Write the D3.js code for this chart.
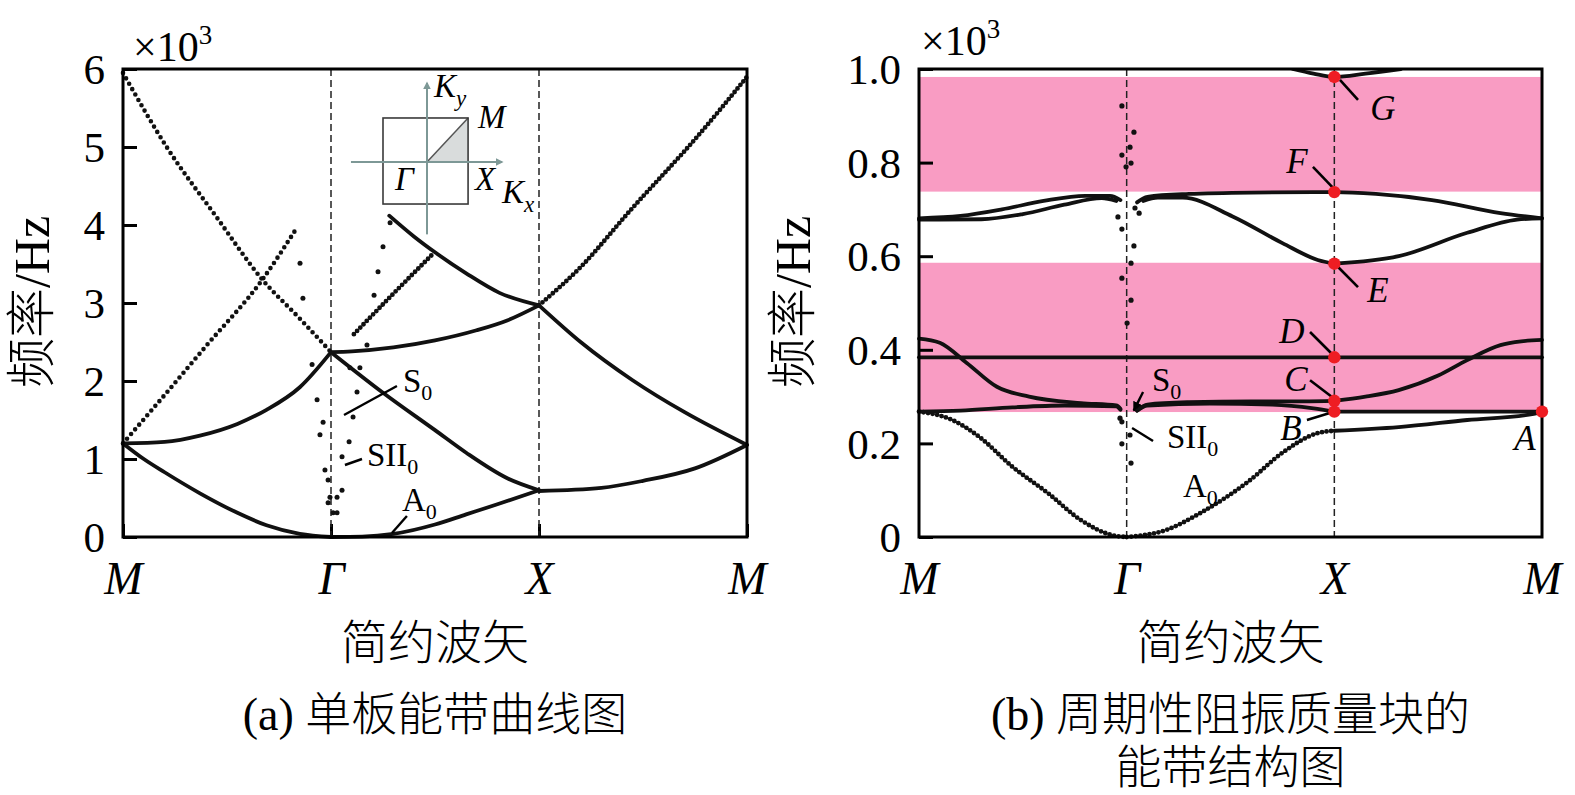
<!DOCTYPE html>
<html><head><meta charset="utf-8">
<script src="https://cdn.jsdelivr.net/npm/d3@7"></script>
<style>
body{margin:0;background:#fff;}
svg text{font-family:"Liberation Serif","Times New Roman","Noto Sans CJK SC",serif;fill:#000;}
</style></head><body>
<svg id="c" width="1575" height="795"></svg>
<script>
// ---------- data ----------
const kTicks = [0, 1, 2, 3];
const kLabels = ["M", "Γ", "X", "M"];
const aYTicks = [0, 1, 2, 3, 4, 5, 6];
const bYTicks = [0, 0.2, 0.4, 0.6, 0.8, 1.0];
const bYTickLabels = ["0", "0.2", "0.4", "0.6", "0.8", "1.0"];
const yTitle = "频率/Hz";
const xTitle = "简约波矢";
const aCaption = ["(a) 单板能带曲线图"];
const bCaption = ["(b) 周期性阻振质量块的", "能带结构图"];

// panel (a) branches  [k, f(x10^3 Hz)]
const aMGup = [[0,1.2],[0.2,1.82],[0.4,2.45],[0.67,3.3],[0.83,3.94]];
const aMGdown = [[0,5.95],[0.21,5.0],[0.45,4.1],[0.67,3.3],[0.85,2.8],[1,2.37]];
const aMGmid = [[0,1.2],[0.2,1.22],[0.37,1.3],[0.55,1.45],[0.69,1.63],[0.85,1.92],[1,2.37]];
const aMGlow = [[0,1.2],[0.1,1.0],[0.2,0.83],[0.37,0.56],[0.55,0.31],[0.69,0.15],[0.85,0.04],[1,0]];
const aGXdown = [[1,2.37],[1.25,1.85],[1.5,1.37],[1.65,1.08],[1.85,0.75],[2,0.6]];
const aGXup = [[1,2.37],[1.1,2.38],[1.3,2.43],[1.5,2.52],[1.7,2.65],[1.85,2.78],[2,2.97]];
const aGXa0 = [[1,0],[1.15,0.005],[1.3,0.04],[1.5,0.16],[1.65,0.29],[1.8,0.42],[2,0.6]];
const aGXtop = [[1.28,4.12],[1.4,3.85],[1.5,3.65],[1.65,3.38],[1.81,3.13],[2,2.97]];
const aGXs0 = [[1.11,2.6],[1.3,3.12],[1.49,3.63]];
const aXMup = [[2,2.97],[2.2,3.46],[2.44,4.19],[2.76,5.13],[3,5.9]];
const aXMdown = [[2,2.97],[2.2,2.5],[2.45,2.01],[2.7,1.6],[3,1.18]];
const aXMlow = [[2,0.59],[2.3,0.63],[2.5,0.72],[2.75,0.88],[3,1.18]];
const aScatter = [[0.851,3.51],[0.865,3.06],[0.909,2.21],[0.933,1.76],[0.962,1.47],[0.947,1.31],
  [0.971,0.86],[0.986,0.73],[0.995,0.51],[0.986,0.44],[1.01,0.31],
  [1.284,4.03],[1.25,3.72],[1.226,3.40],[1.207,3.10],[1.173,2.46],[1.091,2.17],[1.139,2.17],
  [1.125,1.86],[1.106,1.54],[1.087,1.22],[1.053,1.03],[1.053,0.60],[1.029,0.51],[1.029,0.31]];

// panel (b) branches [k, f(x10^3 Hz)]
const bBands = [[0.267, 0.586], [0.738, 0.983]];
const bA0left = [[0,0.268],[0.16,0.25],[0.29,0.214],[0.45,0.15],[0.62,0.094],[0.78,0.036],[0.93,0.004],[1,0]];
const bA0right = [[1,0],[1.19,0.015],[1.35,0.05],[1.59,0.12],[1.75,0.18],[1.92,0.222],[2,0.227]];
const bA0xm = [[2,0.227],[2.31,0.235],[2.64,0.25],[2.96,0.263],[3,0.268]];
const bLowLeft = [[0,0.268],[0.2,0.27],[0.45,0.277],[0.7,0.281],[0.95,0.279],[0.97,0.272]];
const bUpLeft = [[0,0.424],[0.1,0.415],[0.23,0.372],[0.375,0.321],[0.53,0.3],[0.78,0.286],[0.95,0.281],[0.97,0.274]];
const bS0up = [[1.05,0.27],[1.1,0.283],[1.3,0.288],[1.6,0.29],[1.85,0.29],[2,0.291]];
const bS0low = [[1.05,0.27],[1.1,0.281],[1.4,0.285],[1.7,0.283],[1.9,0.275],[2,0.268]];
const bXMup = [[2,0.291],[2.15,0.3],[2.31,0.314],[2.5,0.345],[2.64,0.378],[2.8,0.41],[2.9,0.418],[3,0.421]];
const bXMflat = [[2,0.268],[2.3,0.268],[3,0.268]];
const bFlat = [[0,0.384],[3,0.384]];
const bHiLeftUp = [[0,0.681],[0.2,0.686],[0.4,0.7],[0.6,0.718],[0.8,0.729],[0.92,0.729],[0.97,0.72]];
const bHiLeftLow = [[0,0.678],[0.3,0.679],[0.5,0.69],[0.7,0.71],[0.88,0.724],[0.95,0.718]];
const bFbranch = [[1.05,0.715],[1.1,0.727],[1.3,0.733],[1.6,0.736],[2,0.737],[2.2,0.733],[2.47,0.72],[2.8,0.692],[3,0.681]];
const bEleft = [[1.08,0.718],[1.15,0.725],[1.27,0.725],[1.51,0.685],[1.75,0.628],[1.92,0.592],[2,0.584]];
const bEright = [[2,0.584],[2.31,0.6],[2.64,0.65],[2.88,0.678],[3,0.681]];
const bG = [[1.8,1.0],[1.9,0.99],[2,0.983],[2.15,0.99],[2.32,1.0]];
const bScatter = [[0.977,0.921],[1.035,0.865],[1.016,0.833],[0.977,0.816],[1.021,0.799],[0.997,0.791],
  [0.958,0.684],[0.977,0.658],[1.035,0.622],[1.021,0.585],[0.977,0.553],[1.021,0.506],[1.002,0.457],
  [1.040,0.703],[1.060,0.692],[0.968,0.254],[0.977,0.246],[1.016,0.218],[0.977,0.199],[1.021,0.158]];
const bRedNames = ["G","F","E","D","C","B","A"];
const bRedK = [2,2,2,2,2,2,3];
const bRedF = [0.983,0.737,0.584,0.384,0.291,0.268,0.268];

// annotation label anchors (data units)  [text, k, f, leader k0,f0,k1,f1]
const bLetterLabels = [
  ["G",2.234,0.891,2.027,0.977,2.114,0.934],
  ["F",1.820,0.778,1.897,0.791,1.994,0.746],
  ["E",2.210,0.502,2.018,0.577,2.114,0.534],
  ["D",1.796,0.415,1.883,0.438,1.989,0.391],
  ["C",1.815,0.312,1.883,0.335,1.989,0.299],
  ["B",1.791,0.207,1.868,0.250,1.994,0.267],
  ["A",2.918,0.186,null,null,null,null]];
const aModeLabels = [
  ["S","0",1.346,1.859,1.0625,1.564,1.317,1.936,false],
  ["SII","0",1.173,0.910,1.067,0.923,1.149,1.0,false],
  ["A","0",1.341,0.333,1.293,0.051,1.365,0.269,false]];
const bModeLabels = [
  ["S","0",1.122,0.312,1.079,0.31,1.034,0.27,true],
  ["SII","0",1.194,0.190,1.026,0.233,1.127,0.205,false],
  ["A","0",1.271,0.085,null,null,null,null,false]];

// ---------- drawing ----------
const svg = d3.select("#c");
const defs = svg.append("defs");
defs.append("marker").attr("id","arrG").attr("viewBox","0 0 10 10").attr("refX",8).attr("refY",5)
  .attr("markerWidth",4).attr("markerHeight",4).attr("orient","auto")
  .append("path").attr("d","M0,0L10,5L0,10z").attr("fill","#7d9896");
defs.append("marker").attr("id","arrK").attr("viewBox","0 0 10 10").attr("refX",9).attr("refY",5)
  .attr("markerWidth",4).attr("markerHeight",4).attr("orient","auto")
  .append("path").attr("d","M0,0L10,5L0,10z").attr("fill","#000");

const xA = d3.scaleLinear().domain([0,3]).range([123,747]);
const yA = d3.scaleLinear().domain([0,6]).range([537,69]);
const xB = d3.scaleLinear().domain([0,3]).range([919,1542]);
const yB = d3.scaleLinear().domain([0,1]).range([537,69]);

function drawAxes(x, y, yTicks, yFmt, bottomTick){
  const g = svg.append("g");
  const ya = d3.axisLeft(y).tickValues(yTicks).tickFormat(yFmt).tickSizeInner(-14).tickSizeOuter(0).tickPadding(18);
  const ga = g.append("g").attr("transform",`translate(${x.range()[0]},0)`).call(ya);
  ga.select(".domain").remove();
  ga.selectAll("line").attr("stroke","#000").attr("stroke-width",3);
  ga.selectAll("text").attr("font-size",43).attr("dy","0.34em");
  const xa = d3.axisBottom(x).tickValues(kTicks).tickFormat(i=>kLabels[i]).tickSizeInner(bottomTick).tickSizeOuter(0).tickPadding(24);
  const gb = g.append("g").attr("transform",`translate(0,${y.range()[0]})`).call(xa);
  gb.select(".domain").remove();
  gb.selectAll("line").attr("stroke","#000").attr("stroke-width",3);
  gb.selectAll("text").attr("font-size",46).attr("font-style","italic");
  return g;
}

function dashed(x, y, k){
  svg.append("line").attr("x1",x(k)).attr("x2",x(k)).attr("y1",y.range()[1]).attr("y2",y.range()[0])
    .attr("stroke","#222").attr("stroke-width",1.5).attr("stroke-dasharray","7,4");
}

function branch(x, y, data, style, clip){
  const line = d3.line().x(d=>x(d[0])).y(d=>y(d[1])).curve(d3.curveMonotoneX);
  const p = svg.append("path").attr("d",line(data)).attr("fill","none").attr("stroke","#111")
    .attr("stroke-linecap","round");
  if(style==="dot"){ p.attr("stroke-width",4.6).attr("stroke-dasharray","0,6.2"); }
  else if(style==="fine"){ p.attr("stroke-width",4.8).attr("stroke-dasharray","0,4.6"); }
  else { p.attr("stroke-width",3.8); }
  if(clip) p.attr("clip-path",clip);
  return p;
}

function frame(x, y){
  svg.append("rect").attr("x",x.range()[0]).attr("y",y.range()[1])
    .attr("width",x.range()[1]-x.range()[0]).attr("height",y.range()[0]-y.range()[1])
    .attr("fill","none").attr("stroke","#000").attr("stroke-width",3);
}

function titles(x, y, caption, yTitleX){
  const cx = (x.range()[0]+x.range()[1])/2;
  svg.append("text").attr("x",cx).attr("y",659).attr("text-anchor","middle").attr("font-size",47)
    .attr("font-weight",300).text(xTitle);
  caption.forEach((c,i)=>{
    svg.append("text").attr("x",cx).attr("y",730+i*53).attr("text-anchor","middle").attr("font-size",46)
      .attr("font-weight",300).text(c);
  });
  svg.append("text").attr("transform",`translate(${yTitleX},${302}) rotate(-90)`).attr("text-anchor","middle")
    .attr("font-size",50).attr("font-weight",300).text(yTitle);
}

function exponent(xpos, ypos){
  const t = svg.append("text").attr("x",xpos).attr("y",ypos).attr("font-size",42);
  t.append("tspan").text("×10");
  t.append("tspan").attr("font-size",27).attr("dy",-17).text("3");
}

function modeLabel(x, y, L){
  const t = svg.append("text").attr("x",x(L[2])).attr("y",y(L[3])).attr("font-size",33);
  t.append("tspan").text(L[0]);
  t.append("tspan").attr("font-size",22).attr("dy",8).text(L[1]);
  if(L[4]!==null){
    const ln = svg.append("line").attr("x1",x(L[4])).attr("y1",y(L[5])).attr("x2",x(L[6])).attr("y2",y(L[7]))
      .attr("stroke","#000").attr("stroke-width",2.4);
    if(L[8]) ln.attr("marker-end","url(#arrK)");
  }
}

// ===== Panel (a) =====
drawAxes(xA, yA, aYTicks, d=>d3.format("d")(d), -13);
dashed(xA, yA, 1); dashed(xA, yA, 2);

// inset Brillouin zone (schematic, in data units of panel a)
(function inset(){
  const x0=xA(1.25), x1=xA(1.659), yT=yA(5.372), yBm=yA(4.269);
  const cxp=xA(1.4615), cyp=yA(4.808);
  svg.append("path").attr("d",`M${cxp},${cyp}L${x1},${yT}L${x1},${cyp}Z`).attr("fill","#d9dcdc").attr("stroke","none");
  svg.append("line").attr("x1",cxp).attr("y1",cyp).attr("x2",x1).attr("y2",yT).attr("stroke","#555").attr("stroke-width",1.5);
  svg.append("rect").attr("x",x0).attr("y",yT).attr("width",x1-x0).attr("height",yBm-yT)
    .attr("fill","none").attr("stroke","#3a3a3a").attr("stroke-width",1.6);
  svg.append("line").attr("x1",xA(1.096)).attr("y1",cyp).attr("x2",xA(1.822)).attr("y2",cyp)
    .attr("stroke","#7d9896").attr("stroke-width",2).attr("marker-end","url(#arrG)");
  svg.append("line").attr("x1",cxp).attr("y1",yA(3.88)).attr("x2",cxp).attr("y2",yA(5.82))
    .attr("stroke","#7d9896").attr("stroke-width",2).attr("marker-end","url(#arrG)");
  const lab = (s, sub, xx, yy)=>{
    const t = svg.append("text").attr("x",xx).attr("y",yy).attr("font-size",33).attr("font-style","italic");
    t.append("tspan").text(s);
    if(sub){ t.append("tspan").attr("font-size",23).attr("dy",9).text(sub); }
  };
  lab("K","y", xA(1.495), yA(5.64));
  lab("M",null, xA(1.707), yA(5.24));
  lab("Γ",null, xA(1.308), yA(4.45));
  lab("X",null, xA(1.692), yA(4.45));
  lab("K","x", xA(1.822), yA(4.28));
})();

branch(xA,yA,aMGup,"dot");
branch(xA,yA,aMGdown,"dot");
branch(xA,yA,aMGmid,"solid");
branch(xA,yA,aMGlow,"solid");
branch(xA,yA,aGXdown,"solid");
branch(xA,yA,aGXup,"solid");
branch(xA,yA,aGXa0,"solid");
branch(xA,yA,aGXtop,"solid");
branch(xA,yA,aGXs0,"fine");
branch(xA,yA,aXMup,"fine");
branch(xA,yA,aXMdown,"solid");
branch(xA,yA,aXMlow,"solid");
svg.append("g").selectAll("circle").data(aScatter).join("circle")
  .attr("cx",d=>xA(d[0])).attr("cy",d=>yA(d[1])).attr("r",2.5).attr("fill","#111");
aModeLabels.forEach(L=>modeLabel(xA,yA,L));
frame(xA, yA);
exponent(133, 61);
titles(xA, yA, aCaption, 49);

// ===== Panel (b) =====
svg.append("clipPath").attr("id","clipB").append("rect")
  .attr("x",xB.range()[0]).attr("y",yB.range()[1]).attr("width",xB.range()[1]-xB.range()[0]).attr("height",yB.range()[0]-yB.range()[1]);
svg.append("g").selectAll("rect").data(bBands).join("rect")
  .attr("x",xB(0)).attr("width",xB(3)-xB(0))
  .attr("y",d=>yB(d[1])).attr("height",d=>yB(d[0])-yB(d[1])).attr("fill","#f99cc3");
drawAxes(xB, yB, bYTicks, (d,i)=>bYTickLabels[i], 0);
dashed(xB, yB, 1); dashed(xB, yB, 2);

branch(xB,yB,bA0left,"fine");
branch(xB,yB,bA0right,"fine");
branch(xB,yB,bA0xm,"solid");
branch(xB,yB,bLowLeft,"solid");
branch(xB,yB,bUpLeft,"solid");
branch(xB,yB,bS0up,"solid");
branch(xB,yB,bS0low,"solid");
branch(xB,yB,bXMup,"solid");
branch(xB,yB,bXMflat,"solid");
branch(xB,yB,bFlat,"solid");
branch(xB,yB,bHiLeftUp,"solid");
branch(xB,yB,bHiLeftLow,"solid");
branch(xB,yB,bFbranch,"solid");
branch(xB,yB,bEleft,"solid");
branch(xB,yB,bEright,"solid");
branch(xB,yB,bG,"solid","url(#clipB)");
svg.append("g").selectAll("circle").data(bScatter).join("circle")
  .attr("cx",d=>xB(d[0])).attr("cy",d=>yB(d[1])).attr("r",2.6).attr("fill","#111");

bLetterLabels.forEach(L=>{
  svg.append("text").attr("x",xB(L[1])).attr("y",yB(L[2])).attr("text-anchor","middle")
    .attr("font-size",35).attr("font-style","italic").text(L[0]);
  if(L[3]!==null){
    svg.append("line").attr("x1",xB(L[3])).attr("y1",yB(L[4])).attr("x2",xB(L[5])).attr("y2",yB(L[6]))
      .attr("stroke","#000").attr("stroke-width",2.6);
  }
});
bModeLabels.forEach(L=>modeLabel(xB,yB,L));
frame(xB, yB);
svg.append("g").selectAll("circle").data(bRedNames).join("circle")
  .attr("cx",(d,i)=>xB(bRedK[i])).attr("cy",(d,i)=>yB(bRedF[i])).attr("r",6.2).attr("fill","#ee1d23");
exponent(921, 55);
titles(xB, yB, bCaption, 810);
</script>
</body></html>
